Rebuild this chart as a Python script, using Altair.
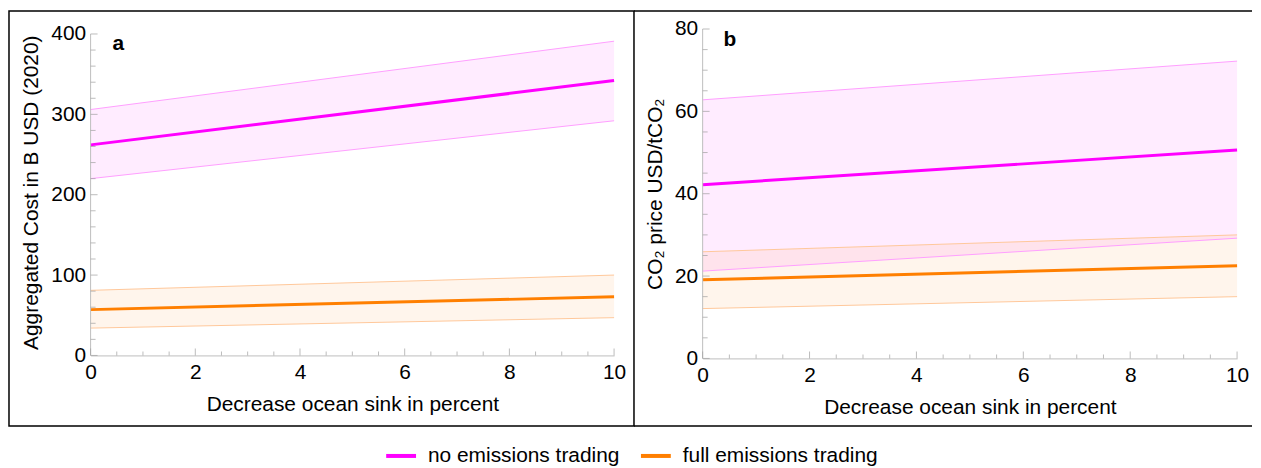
import altair as alt
import pandas as pd

# ---------------- data ----------------
x_pts = [0, 10]
series = ["no emissions trading", "full emissions trading"]

# panel a: Aggregated cost in B USD (2020)
a_no_mid = [262, 342]
a_no_lo = [220, 292]
a_no_hi = [306, 391]
a_full_mid = [57, 73]
a_full_lo = [34, 47]
a_full_hi = [81, 100]

# panel b: CO2 price USD/tCO2
b_no_mid = [42.2, 50.6]
b_no_lo = [21.2, 29.2]
b_no_hi = [62.8, 72.2]
b_full_mid = [19.1, 22.5]
b_full_lo = [12.1, 15.0]
b_full_hi = [25.9, 30.0]

x_major = [0, 2, 4, 6, 8, 10]
x_minor = [0.5, 1, 1.5, 2.5, 3, 3.5, 4.5, 5, 5.5, 6.5, 7, 7.5, 8.5, 9, 9.5]
a_y_major = [0, 100, 200, 300, 400]
a_y_minor = [20, 40, 60, 80, 120, 140, 160, 180, 220, 240, 260, 280, 320, 340, 360, 380]
b_y_major = [0, 20, 40, 60, 80]
b_y_minor = [5, 10, 15, 25, 30, 35, 45, 50, 55, 65, 70, 75]

MAIN = ["#FF00FF", "#FF7F00"]
EDGE = ["#FF9EFF", "#FFC89A"]
FONT = "Liberation Sans"
FS = 21
TICK = "#A0A0A0"
AXC = "#BDBDBD"


def make_df(no_mid, no_lo, no_hi, full_mid, full_lo, full_hi):
    rows = []
    for name, mid, lo, hi in [(series[0], no_mid, no_lo, no_hi),
                              (series[1], full_mid, full_lo, full_hi)]:
        for i, xv in enumerate(x_pts):
            rows.append({"x": xv, "mid": mid[i], "lo": lo[i], "hi": hi[i], "series": name})
    return pd.DataFrame(rows)


def panel(df, ymax, dom_top, ymaj, ymin, w, h, ytitle, letter, extra_layers, lx, ly):
    xs = alt.Scale(domain=[0, 10], nice=False, zero=False)
    ys = alt.Scale(domain=[0, dom_top], nice=False, zero=False)
    xaxis = alt.Axis(values=x_major, ticks=False, tickSize=0, grid=False, labelFlush=False,
                     domainColor=AXC, labelPadding=6, titlePadding=11,
                     title="Decrease ocean sink in percent")
    yaxis = alt.Axis(values=ymaj, ticks=False, tickSize=0, grid=False, domain=False,
                     labelFlush=False, labelPadding=5, titlePadding=9, title=ytitle)
    X = lambda f: alt.X(f, scale=xs, axis=xaxis)
    Y = lambda f: alt.Y(f, scale=ys, axis=yaxis)

    area = alt.Chart(df).mark_area(fillOpacity=0.075).encode(
        x=X("x:Q"), y=Y("lo:Q"), y2="hi:Q",
        fill=alt.Fill("series:N", scale=alt.Scale(domain=series, range=MAIN), legend=None),
    )
    edges = alt.Chart(df).transform_fold(["lo", "hi"], as_=["bound", "val"]).mark_line(
        strokeWidth=1
    ).encode(
        x=X("x:Q"), y=Y("val:Q"), detail="bound:N",
        stroke=alt.Stroke("series:N", scale=alt.Scale(domain=series, range=EDGE), legend=None),
    )
    mid = alt.Chart(df).mark_line(strokeWidth=3).encode(
        x=X("x:Q"), y=Y("mid:Q"),
        color=alt.Color("series:N", scale=alt.Scale(domain=series, range=MAIN), legend=None),
    )
    yline = alt.Chart(pd.DataFrame({"a": [0], "b": [ymax]})).mark_rule(
        color=AXC, strokeWidth=1
    ).encode(y=Y("a:Q"), y2="b:Q", x=alt.value(0))
    xt_major = alt.Chart(pd.DataFrame({"t": x_major})).mark_tick(
        orient="vertical", size=7, thickness=1, color=TICK
    ).encode(x=X("t:Q"), y=alt.value(h - 3.5))
    xt_minor = alt.Chart(pd.DataFrame({"t": x_minor})).mark_tick(
        orient="vertical", size=4, thickness=1, color=TICK
    ).encode(x=X("t:Q"), y=alt.value(h - 2))
    yt_major = alt.Chart(pd.DataFrame({"t": ymaj})).mark_tick(
        orient="horizontal", size=7, thickness=1, color=TICK
    ).encode(y=Y("t:Q"), x=alt.value(3.5))
    yt_minor = alt.Chart(pd.DataFrame({"t": ymin})).mark_tick(
        orient="horizontal", size=5, thickness=1, color=TICK
    ).encode(y=Y("t:Q"), x=alt.value(2.5))
    lab = alt.Chart(pd.DataFrame({"l": [letter]})).mark_text(
        fontWeight="bold", fontSize=FS, font=FONT, align="left", baseline="alphabetic", color="black"
    ).encode(x=alt.value(lx), y=alt.value(ly), text="l:N")

    return alt.layer(area, edges, mid, yline, xt_major, xt_minor, yt_major, yt_minor, lab,
                     *extra_layers).properties(width=w, height=h)


one = pd.DataFrame({"k": [0]})

# panel a: plot x 90..616, value 400 at y=32, 0 at y=355; view top at y=27 (aligned with b)
wa, ha = 526, 328
a_top = 400 * 328 / 323
extra_a = [alt.Chart(one).mark_rect(fillOpacity=0, stroke="black", strokeWidth=1.5).encode(
    x=alt.value(-82), x2=alt.value(546), y=alt.value(-18), y2=alt.value(399))]

# legend (drawn below both panels, positions relative to panel a's plot origin)
leg_sym_x = [297, 553]
leg_y = 429
for i, name in enumerate(series):
    extra_a.append(
        alt.Chart(one).mark_rule(strokeWidth=4, color=MAIN[i]).encode(
            x=alt.value(leg_sym_x[i]), x2=alt.value(leg_sym_x[i] + 30), y=alt.value(leg_y))
    )
    extra_a.append(
        alt.Chart(pd.DataFrame({"s": [name]})).mark_text(
            fontSize=FS, font=FONT, align="left", baseline="middle", color="black"
        ).encode(x=alt.value(leg_sym_x[i] + 42), y=alt.value(leg_y), text="s:N")
    )

# panel b: plot x 705..1242, y 27..358
wb, hb = 537, 331
extra_b = [
    alt.Chart(one).mark_rule(stroke="black", strokeWidth=1.5).encode(
        x=alt.value(-69), x2=alt.value(552), y=alt.value(-18)),
    alt.Chart(one).mark_rule(stroke="black", strokeWidth=1.5).encode(
        x=alt.value(-69), x2=alt.value(552), y=alt.value(399)),
]

pa = panel(make_df(a_no_mid, a_no_lo, a_no_hi, a_full_mid, a_full_lo, a_full_hi),
           400, a_top, a_y_major, a_y_minor, wa, ha, "Aggregated Cost in B USD (2020)", "a",
           extra_a, 22, 21)
pb = panel(make_df(b_no_mid, b_no_lo, b_no_hi, b_full_mid, b_full_lo, b_full_hi),
           80, 80, b_y_major, b_y_minor, wb, hb, "CO₂ price USD/tCO₂", "b",
           extra_b, 21, 17)

chart = alt.hconcat(pa, pb, spacing=89, bounds="flush").properties(
    padding={"left": 0, "top": 1, "right": 0, "bottom": 0}
).configure(font=FONT).configure_view(stroke=None).configure_axis(
    labelFontSize=FS, titleFontSize=FS, labelFont=FONT, titleFont=FONT,
    labelColor="black", titleColor="black", titleFontWeight="normal",
)

chart.save("out.html", embed_options={"renderer": "svg", "actions": False})
